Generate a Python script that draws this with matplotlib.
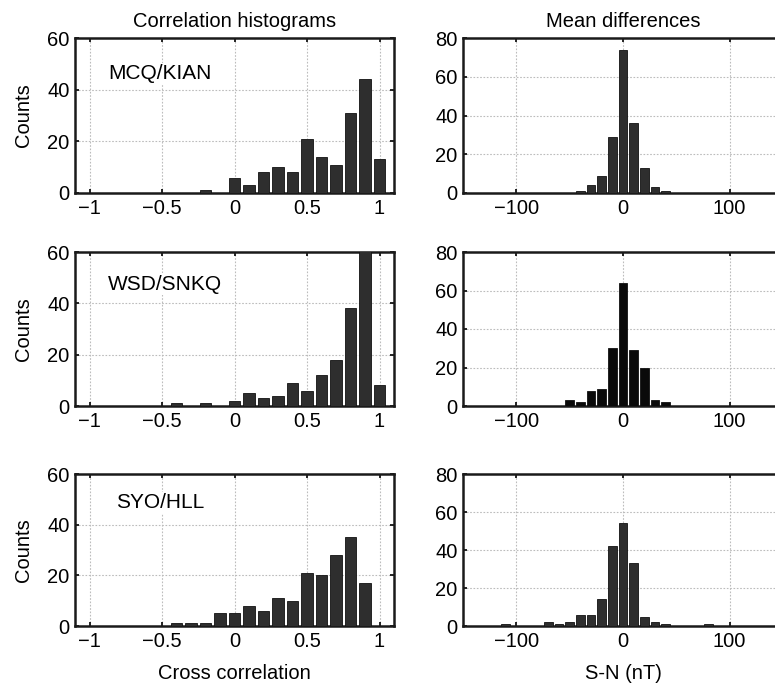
import numpy as np
import matplotlib
matplotlib.use("Agg")
import matplotlib.pyplot as plt
import matplotlib.transforms as mtransforms

plt.rcParams['font.family'] = ['Liberation Sans', 'DejaVu Sans']
plt.rcParams['axes.unicode_minus'] = True

# correlation histogram bins (centres) and counts
corr_bins = [-1.0, -0.9, -0.8, -0.7, -0.6, -0.5, -0.4, -0.3, -0.2, -0.1, 0.0,
             0.1, 0.2, 0.3, 0.4, 0.5, 0.6, 0.7, 0.8, 0.9, 1.0]
corr_mcq = [0, 0, 0, 0, 0, 0, 0, 0, 1, 0, 6, 3, 8, 10, 8, 21, 14, 11, 31, 44, 13]
corr_wsd = [0, 0, 0, 0, 0, 0, 1, 0, 1, 0, 2, 5, 3, 4, 9, 6, 12, 18, 38, 62, 8]
corr_syo = [0, 0, 0, 0, 0, 0, 1, 1, 1, 5, 5, 8, 6, 11, 10, 21, 20, 28, 35, 17, 0]

# mean difference histogram bins (centres, nT) and counts
diff_bins = [-110, -100, -90, -80, -70, -60, -50, -40, -30, -20, -10, 0,
             10, 20, 30, 40, 50, 60, 70, 80]
diff_mcq = [0, 0, 0, 0, 0, 0, 0, 1, 4, 9, 29, 74, 36, 13, 3, 1, 0, 0, 0, 0]
diff_wsd = [0, 0, 0, 0, 0, 0, 3, 2, 8, 9, 30, 64, 29, 20, 3, 2, 0, 0, 0, 0]
diff_syo = [1, 0, 0, 0, 2, 1, 2, 6, 6, 14, 42, 54, 33, 5, 2, 1, 0, 0, 0, 1]

stations = ['MCQ/KIAN', 'WSD/SNKQ', 'SYO/HLL']
label_pos = [(-0.87, 0.77), (-0.87, 0.79), (-0.82, 0.81)]
corr_counts = [corr_mcq, corr_wsd, corr_syo]
diff_counts = [diff_mcq, diff_wsd, diff_syo]
diff_colors = ['#2e2e2e', '#0a0a0a', '#2e2e2e']

FS = 14.5
W, H = 775, 690
fig = plt.figure(figsize=(W / 100, H / 100), dpi=100)

# pixel rows (top, bottom) of each panel row
rows = [(38, 193), (252, 406), (474, 626)]


def style(ax, ymax, yticks):
    ax.set_ylim(0, ymax)
    ax.set_yticks(yticks)
    ax.grid(True, color='#bcbcbc', linestyle=(0, (1.5, 1.5)), linewidth=0.8)
    ax.set_axisbelow(True)
    ax.tick_params(direction='in', top=True, right=True, length=3, width=1.2,
                   labelsize=FS, pad=4)
    for s in ax.spines.values():
        s.set_linewidth(1.8)
        s.set_color('#1a1a1a')


for i, (top, bot) in enumerate(rows):
    y0 = 1 - bot / H
    h = (bot - top) / H

    # left: correlation histograms
    ax = fig.add_axes([75 / W, y0, (394 - 75) / W, h])
    c = np.array(corr_counts[i], dtype=float)
    b = np.array(corr_bins)
    m = c > 0
    ax.bar(b[m], c[m], width=0.082, color='#2e2e2e', edgecolor='#111111',
           linewidth=0.6, zorder=3)
    ax.set_xlim(-1.1, 1.1)
    ax.set_xticks([-1, -0.5, 0, 0.5, 1])
    ax.set_xticklabels(['\u22121', '\u22120.5', '0', '0.5', '1'])
    style(ax, 60, [0, 20, 40, 60])
    ax.set_ylabel('Counts', fontsize=FS, labelpad=10)
    lx, ly = label_pos[i]
    trans = mtransforms.blended_transform_factory(ax.transData, ax.transAxes)
    ax.text(lx, ly, stations[i], transform=trans,
            fontsize=FS + 0.5, va='center', ha='left', zorder=4,
            bbox=dict(facecolor='white', edgecolor='none', pad=1))
    if i == 0:
        ax.set_title('Correlation histograms', fontsize=FS, pad=8)
    if i == 2:
        ax.set_xlabel('Cross correlation', fontsize=FS, labelpad=10)

    # right: mean differences
    ax2 = fig.add_axes([463 / W, y0, (783 - 463) / W, h])
    d = np.array(diff_counts[i], dtype=float)
    db = np.array(diff_bins)
    m2 = d > 0
    ax2.bar(db[m2], d[m2], width=8.4, color=diff_colors[i], edgecolor='#111111',
            linewidth=0.6, zorder=3)
    ax2.set_xlim(-150, 150)
    ax2.set_xticks([-100, 0, 100])
    ax2.set_xticklabels(['\u2212100', '0', '100'])
    style(ax2, 80, [0, 20, 40, 60, 80])
    if i == 0:
        ax2.set_title('Mean differences', fontsize=FS, pad=8)
    if i == 2:
        ax2.set_xlabel('S-N (nT)', fontsize=FS, labelpad=10)

fig.savefig('out.png', dpi=100)
